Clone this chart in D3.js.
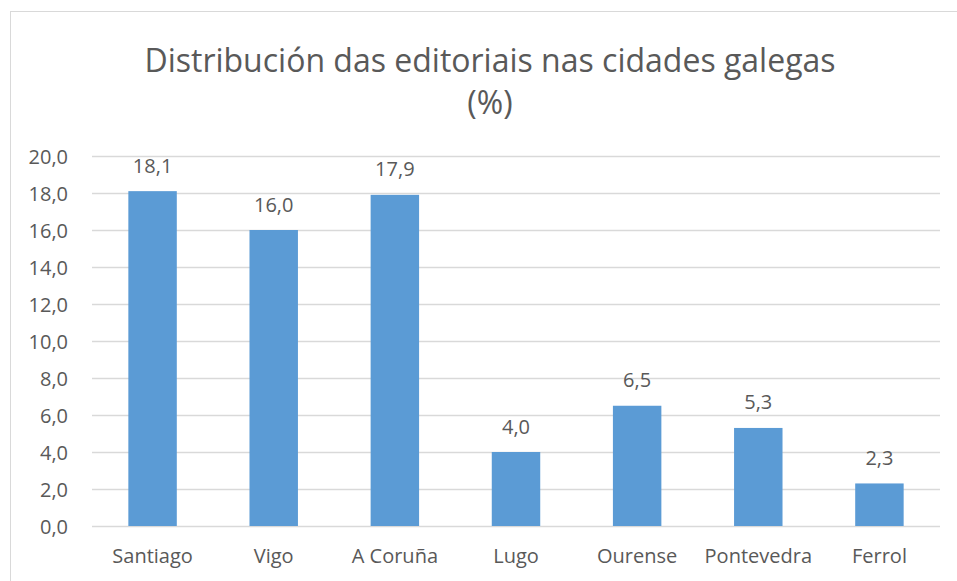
<!DOCTYPE html>
<html><head><meta charset="utf-8">
<script src="https://cdn.jsdelivr.net/npm/d3@7"></script>
<style>body{margin:0;background:#fff}svg{display:block}text{font-family:"Open Sans",sans-serif;fill:#595959}</style>
</head><body><svg id="c" width="957" height="581"></svg>
<script>
const categories = ["Santiago","Vigo","A Coruña","Lugo","Ourense","Pontevedra","Ferrol"];
const values = [18.1,16.0,17.9,4.0,6.5,5.3,2.3];
const yTicks = [0,2,4,6,8,10,12,14,16,18,20];
const titleLines = ["Distribución das editoriais nas cidades galegas","(%)"];

const svg = d3.select("#c");
const W=957,H=581;
svg.append("rect").attr("x",10.5).attr("y",11.5).attr("width",W).attr("height",H).attr("fill","#fff").attr("stroke","#d9d9d9");
const m={left:92,right:17,top:156,bottom:55};
const x=d3.scaleBand().domain(categories).range([m.left,W-m.right]);
const y=d3.scaleLinear().domain([0,20]).range([H-m.bottom,m.top]);
const fmt=d=>d3.format(".1f")(d).replace(".",",");

svg.append("g").selectAll("line").data(yTicks).join("line")
 .attr("x1",m.left).attr("x2",W-m.right).attr("y1",d=>Math.round(y(d))+0.5).attr("y2",d=>Math.round(y(d))+0.5)
 .attr("stroke","#d9d9d9").attr("stroke-width",1.3);

const yAxis=svg.append("g").attr("transform",`translate(${m.left-24},0)`).call(d3.axisLeft(y).tickValues(yTicks).tickFormat(fmt).tickSize(0).tickPadding(0));
yAxis.select(".domain").remove();
yAxis.selectAll("text").attr("font-size",20).attr("font-family","Open Sans").attr("fill","#595959").attr("dy","0.36em");

const bw=x.bandwidth()*0.4;
svg.append("g").selectAll("rect").data(values).join("rect")
 .attr("x",(d,i)=>x(categories[i])+x.bandwidth()/2-bw/2).attr("width",bw)
 .attr("y",d=>y(d)).attr("height",d=>y(0)-y(d)).attr("fill","#5B9BD5");

svg.append("g").selectAll("text").data(values).join("text")
 .attr("x",(d,i)=>x(categories[i])+x.bandwidth()/2).attr("y",d=>y(d)-18.5)
 .attr("text-anchor","middle").attr("font-size",20).text(fmt);

const xAxis=svg.append("g").attr("transform",`translate(0,${y(0)})`).call(d3.axisBottom(x).tickSize(0).tickPadding(0));
xAxis.select(".domain").remove();
xAxis.selectAll("text").attr("font-size",20).attr("font-family","Open Sans").attr("fill","#595959").attr("dy",0).attr("y",37);

svg.append("g").selectAll("text").data(titleLines).join("text")
 .attr("x",(m.left+W-m.right)/2-26).attr("y",(d,i)=>72+i*42).attr("text-anchor","middle").attr("font-size",32).text(d=>d);
</script></body></html>
